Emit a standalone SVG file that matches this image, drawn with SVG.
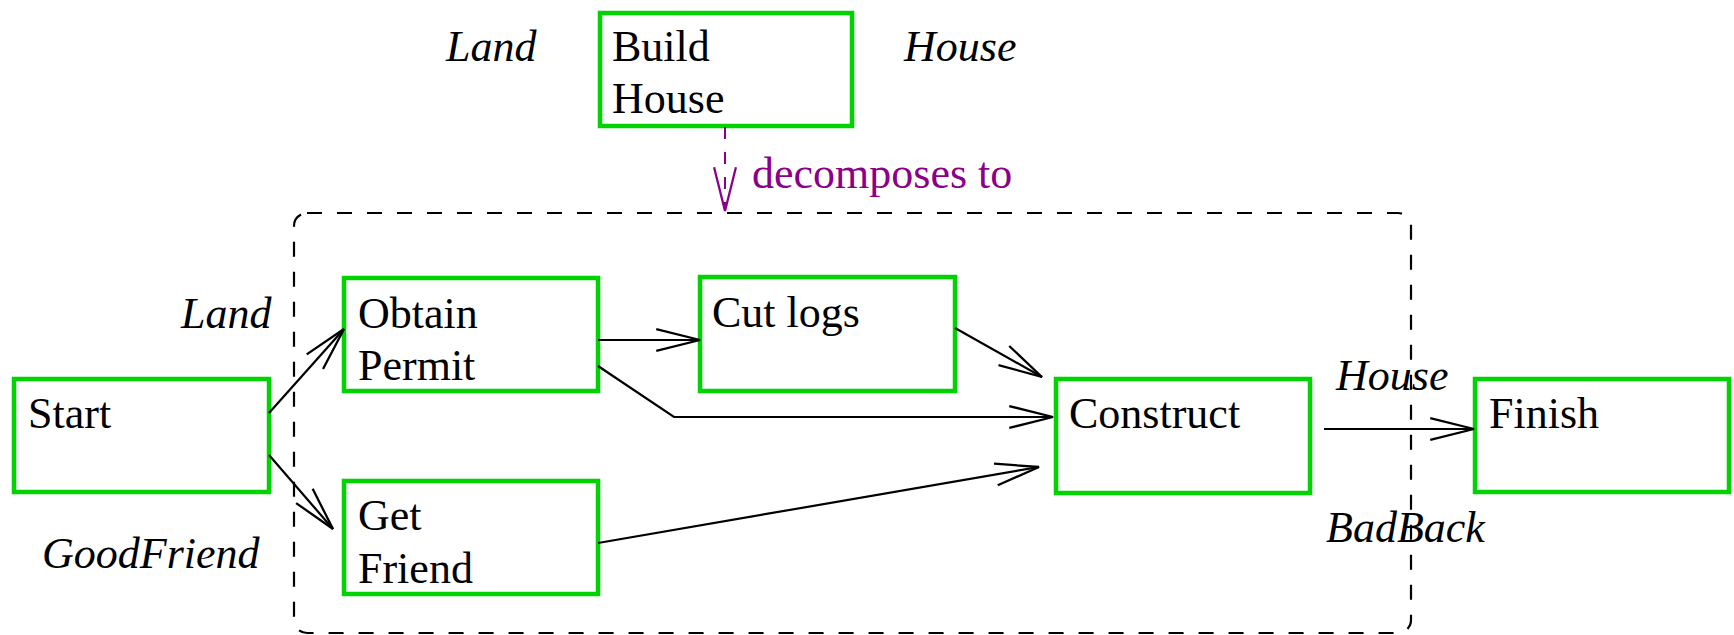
<svg xmlns="http://www.w3.org/2000/svg" width="1734" height="635" viewBox="0 0 1734 635">
<defs>
<style>
.box{fill:none;stroke:#00d400;stroke-width:4.5}
.t{font-family:"Liberation Serif","Times New Roman",serif;font-size:44px;fill:#000}
.i{font-family:"Liberation Serif","Times New Roman",serif;font-size:44px;font-style:italic;fill:#000}
.p{font-family:"Liberation Serif","Times New Roman",serif;font-size:44px;fill:#8b008b}
.c{fill:none;stroke:#000;stroke-width:2.2}
</style>
<marker id="ah" markerUnits="userSpaceOnUse" markerWidth="50" markerHeight="30" viewBox="-2 -2 48 26" refX="42" refY="10.5" orient="auto">
<path d="M0,0 L42,10.5 L0,21" fill="none" stroke="#000" stroke-width="2.2"/>
</marker>
<marker id="ahp" markerUnits="userSpaceOnUse" markerWidth="50" markerHeight="30" viewBox="-2 -2 48 26" refX="42" refY="10.5" orient="auto">
<path d="M0,0 L42,10.5 L0,21" fill="none" stroke="#8b008b" stroke-width="2.2"/>
</marker>
</defs>
<rect width="1734" height="635" fill="#fff"/>

<g id="container">
<rect x="294" y="213" width="1117" height="420" rx="13" ry="13" fill="none" stroke="#000" stroke-width="2.2" stroke-dasharray="15 15"/>
</g>

<g id="build-house">
<rect class="box" x="600" y="13" width="252" height="113"/>
<text class="t" x="612" y="61">Build</text>
<text class="t" x="612" y="113">House</text>
</g>
<g id="build-labels">
<text class="i" x="446" y="61">Land</text>
<text class="i" x="904" y="61">House</text>
</g>

<g id="start">
<rect class="box" x="14" y="379" width="255" height="113"/>
<text class="t" x="28" y="428">Start</text>
</g>
<g id="obtain-permit">
<rect class="box" x="344" y="278" width="254" height="113"/>
<text class="t" x="358" y="328">Obtain</text>
<text class="t" x="358" y="380">Permit</text>
</g>
<g id="get-friend">
<rect class="box" x="344" y="481" width="254" height="113"/>
<text class="t" x="358" y="530">Get</text>
<text class="t" x="358" y="583">Friend</text>
</g>
<g id="cut-logs">
<rect class="box" x="700" y="277" width="255" height="114"/>
<text class="t" x="712" y="327">Cut logs</text>
</g>
<g id="construct">
<rect class="box" x="1056" y="379" width="254" height="114"/>
<text class="t" x="1069" y="428">Construct</text>
</g>
<g id="finish">
<rect class="box" x="1475" y="379" width="254" height="113"/>
<text class="t" x="1489" y="428">Finish</text>
</g>

<g id="labels">
<text class="i" x="181" y="328">Land</text>
<text class="i" x="42" y="568">GoodFriend</text>
<text class="i" x="1336" y="390">House</text>
<text class="i" x="1326" y="542">BadBack</text>
</g>

<g id="connectors">
<line x1="725" y1="127" x2="725" y2="211" fill="none" stroke="#8b008b" stroke-width="2" stroke-dasharray="12 13" marker-end="url(#ahp)"/>
<text class="p" x="752" y="188">decomposes to</text>
<line class="c" x1="269" y1="413" x2="344" y2="329" marker-end="url(#ah)"/>
<line class="c" x1="269" y1="455" x2="333" y2="529" marker-end="url(#ah)"/>
<line class="c" x1="598" y1="340" x2="700" y2="340" marker-end="url(#ah)"/>
<polyline class="c" points="598,366 674,417 1053,417" marker-end="url(#ah)"/>
<line class="c" x1="955" y1="328" x2="1042" y2="377" marker-end="url(#ah)"/>
<line class="c" x1="598" y1="543" x2="1039" y2="467" marker-end="url(#ah)"/>
<line class="c" x1="1324" y1="429" x2="1474" y2="429" marker-end="url(#ah)"/>
</g>
</svg>
